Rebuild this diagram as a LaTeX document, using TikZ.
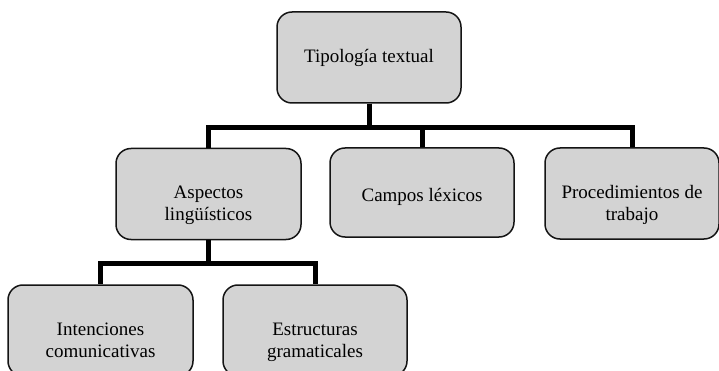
\documentclass[tikz,border=0pt]{standalone}
\usepackage{fontspec}
\setmainfont{Liberation Serif}
\definecolor{cor_caja}{RGB}{211,211,211}
\definecolor{cor_borde}{RGB}{20,20,20}

\begin{document}
\begin{tikzpicture}[x=1pt,y=-1pt]
        \tikzset{
            caja/.style={
                draw=cor_borde,
                fill=cor_caja,
                line width=1.5pt,
                rounded corners=15pt,
                align=center,
                font=\fontsize{19}{22}\selectfont,
                minimum width=#1,
                minimum height=91pt
            },
            dos/.style={
                text height=58pt,
                text depth=4pt
            },
            rama/.style={
                black,
                line width=5pt,
                line join=miter
            }
        }
        \useasboundingbox (0,0) rectangle (719,371);

        %1
        \node[caja=184pt] (tipo) at (369,57.5) {Tipología textual};

        %2
        \node[caja=185pt, dos] (asp) at (208.5,194) {Aspectos\\lingüísticos};
        \node[caja=184pt, minimum height=89pt, text height=24pt, text depth=5pt] (camp) at (422,192.5) {Campos léxicos};
        \node[caja=174pt, dos] (proc) at (632,193.5) {Procedimientos de\\trabajo};

        %3
        \node[caja=185pt, dos] (inte) at (100.5,330.5) {Intenciones\\comunicativas};
        \node[caja=184pt, dos] (estr) at (315,330.5) {Estructuras\\gramaticales};

        %ramas
        \draw[rama] (tipo.south) -- ++(0,23.5) -| (asp.north);
        \draw[rama] (tipo.south) -- ++(0,23.5) -| (camp.north);
        \draw[rama] (tipo.south) -- ++(0,23.5) -| (proc.north);
        \draw[rama] (asp.south) -- ++(0,23) -| (inte.north);
        \draw[rama] (asp.south) -- ++(0,23) -| (estr.north);

    \end{tikzpicture}
\end{document}
